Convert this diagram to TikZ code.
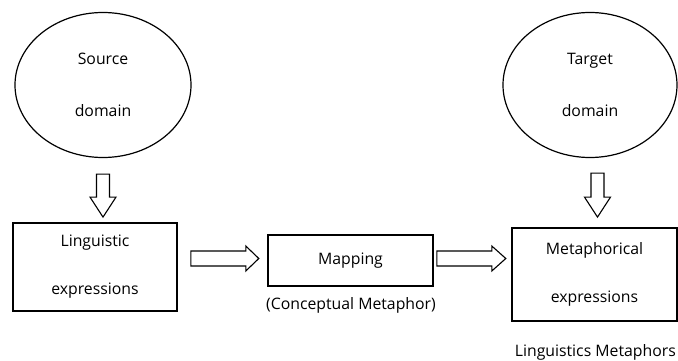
\documentclass[tikz,border=0pt]{standalone}
\usepackage{fontspec}
\setmainfont{Open Sans}
\usetikzlibrary{shapes.geometric,calc}
\begin{document}
\begin{tikzpicture}[x=1pt,y=-1pt,
 dom/.style={draw, ellipse, line width=1.2pt, inner sep=0pt, font=\fontsize{15.8}{52}\selectfont, align=center},
 box/.style={draw, rectangle, line width=1.6pt, inner sep=0pt, font=\fontsize{15.8}{48}\selectfont, align=center},
 lbl/.style={inner sep=0pt, font=\fontsize{15.8}{19}\selectfont},
 blk/.style={draw, line width=1.1pt, fill=white, line join=miter}]
\useasboundingbox (0,0) rectangle (678,361);
\node[dom, minimum width=176pt, minimum height=145pt] (src) at (103,85) {Source\\domain};
\node[dom, minimum width=174pt, minimum height=145pt] (tgt) at (590,85) {Target\\domain};
\node[box, minimum width=164pt, minimum height=88pt] (ling) at (95,267) {Linguistic\\expressions};
\node[box, minimum width=165pt, minimum height=51pt] (map) at (350.5,260.5) {Mapping};
\node[box, minimum width=165pt, minimum height=93pt] (met) at (594.5,274.5) {Metaphorical\\expressions};
\node[lbl] (cm) at (351,305) {(Conceptual Metaphor)};
\node[lbl, anchor=east] (lm) at (676,352) {Linguistics Metaphors};
% down block arrows
\draw[blk] ($(src.south)+(-6.5,16)$) -- ++(13,0) -- ++(0,23) -- ++(6.5,0) -- ++(-13,20) -- ++(-13,-20) -- ++(6.5,0) -- cycle;
\draw[blk] ($(tgt.south)+(1,15)$) -- ++(13,0) -- ++(0,24) -- ++(6.5,0) -- ++(-13,20) -- ++(-13,-20) -- ++(6.5,0) -- cycle;
% right block arrows
\draw[blk] ($(ling.east)+(13,-16)$) -- ++(55,0) -- ++(0,-5) -- ++(13,12.5) -- ++(-13,12.5) -- ++(0,-5) -- ++(-55,0) -- cycle;
\draw[blk] ($(map.east)+(3,-9.5)$) -- ++(55,0) -- ++(0,-5) -- ++(14,12.5) -- ++(-14,12.5) -- ++(0,-5) -- ++(-55,0) -- cycle;
\end{tikzpicture}
\end{document}
